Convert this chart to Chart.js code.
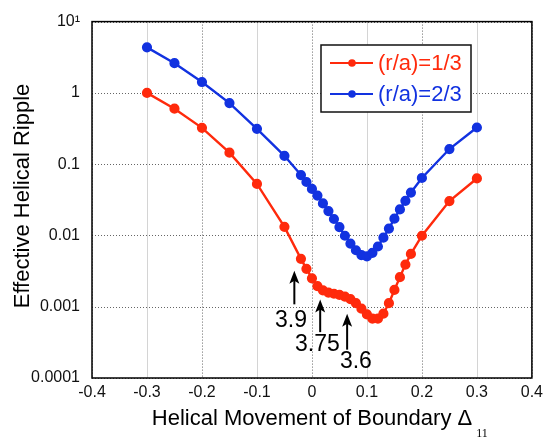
<!DOCTYPE html>
<html>
<head>
<meta charset="utf-8">
<script src="https://cdn.jsdelivr.net/npm/chart.js@4.4.1/dist/chart.umd.min.js"></script>
<style>
  html, body { margin: 0; padding: 0; background: #fff; }
  #wrap { width: 548px; height: 441px; position: relative; }
</style>
</head>
<body>
<div id="wrap"><canvas id="cjs" width="548" height="441"></canvas></div>
<script>
// helical movement of the boundary (x)
const deltaX = [-0.3, -0.25, -0.2, -0.15, -0.1, -0.05, -0.02, -0.01,
    0, 0.01, 0.02, 0.03, 0.04, 0.05, 0.06, 0.07, 0.08, 0.09,
    0.1, 0.11, 0.12, 0.13, 0.14, 0.15, 0.16, 0.17, 0.18, 0.2, 0.25, 0.3];

// effective helical ripple, (r/a)=1/3
const rippleInner = [1.0, 0.6, 0.323, 0.145, 0.0528, 0.0132, 0.0047, 0.0034,
    0.0025, 0.00194, 0.0017, 0.00158, 0.00152, 0.00147, 0.00139, 0.00128, 0.00112, 0.00094,
    0.00078, 0.00068, 0.00068, 0.0008, 0.00112, 0.00172, 0.0026, 0.0039, 0.0055, 0.0099, 0.0303, 0.063];

// effective helical ripple, (r/a)=2/3
const rippleOuter = [4.35, 2.61, 1.42, 0.72, 0.313, 0.131, 0.0703, 0.0562,
    0.045, 0.0363, 0.0281, 0.022, 0.017, 0.0131, 0.0099, 0.0077, 0.0062, 0.0053,
    0.0051, 0.0057, 0.007, 0.0093, 0.0125, 0.0172, 0.0232, 0.0306, 0.04, 0.064, 0.163, 0.327];

const seriesLabels = ['(r/a)=1/3', '(r/a)=2/3'];
const yTicks = [0.0001, 0.001, 0.01, 0.1, 1, 10];
const yTickLabels = ['0.0001', '0.001', '0.01', '0.1', '1', '10¹'];

// arrows marking iota values: x, arrow tail y, arrow tip y, label x, label y
const marks = ['3.9', '3.75', '3.6'];
const markX = [-0.032, 0.015, 0.064];
const markTail = [0.00108, 0.00044, 0.00025];
const markTip = [0.0032, 0.00126, 0.0008];
const markLabelX = [-0.038, 0.01, 0.08];
const markLabelY = [0.00063, 0.00029, 0.000172];

const RED = '#ff2a0c';
const BLUE = '#1232e0';
const FONT = '"Liberation Sans", Arial, Helvetica, sans-serif';

function pts(ys){
    return deltaX.map(function(x, i){ return {x: x, y: ys[i]}; });
}

const decor = {
    id: 'decor',
    beforeDatasetsDraw(chart){
        const ctx = chart.ctx, a = chart.chartArea;
        const xs = chart.scales.x, ys = chart.scales.y;
        ctx.save();
        ctx.lineWidth = 1;
        // vertical grid: odd tenths light solid, even tenths dotted
        xs.ticks.forEach(function(t, i){
            const px = Math.round(xs.getPixelForValue(t.value)) + 0.5;
            if (i % 2 === 1){
                ctx.setLineDash([]);
                ctx.strokeStyle = '#d4d4d4';
            } else {
                ctx.setLineDash([1, 2]);
                ctx.strokeStyle = '#666';
            }
            ctx.beginPath(); ctx.moveTo(px, a.top); ctx.lineTo(px, a.bottom); ctx.stroke();
        });
        ctx.setLineDash([1, 2]);
        ctx.strokeStyle = '#666';
        yTicks.forEach(function(v){
            const py = Math.round(ys.getPixelForValue(v)) + 0.5;
            ctx.beginPath(); ctx.moveTo(a.left, py); ctx.lineTo(a.right, py); ctx.stroke();
        });
        ctx.restore();
    },
    afterDraw(chart){
        const ctx = chart.ctx, a = chart.chartArea;
        const xs = chart.scales.x, ys = chart.scales.y;
        ctx.save();
        // frame
        ctx.strokeStyle = '#000';
        ctx.lineWidth = 1.5;
        ctx.strokeRect(a.left, a.top, a.right - a.left, a.bottom - a.top);

        // legend box
        const lx = 321, ly = 45, lw = 150, lh = 67;
        ctx.fillStyle = '#fff';
        ctx.fillRect(lx, ly, lw, lh);
        ctx.lineWidth = 1.5;
        ctx.strokeStyle = '#111';
        ctx.strokeRect(lx, ly, lw, lh);
        [RED, BLUE].forEach(function(c, i){
            const ry = ly + 18 + i * 31;
            ctx.strokeStyle = c; ctx.fillStyle = c; ctx.lineWidth = 2;
            ctx.beginPath(); ctx.moveTo(lx + 9, ry); ctx.lineTo(lx + 52, ry); ctx.stroke();
            ctx.beginPath(); ctx.arc(lx + 31, ry, 3.8, 0, Math.PI * 2); ctx.fill();
            ctx.font = '22px ' + FONT;
            ctx.textAlign = 'left'; ctx.textBaseline = 'middle';
            ctx.fillText(seriesLabels[i], lx + 57, ry + 1);
        });

        // arrows with labels
        ctx.strokeStyle = '#000'; ctx.fillStyle = '#000'; ctx.lineWidth = 2;
        marks.forEach(function(m, i){
            const px = xs.getPixelForValue(markX[i]);
            const y0 = ys.getPixelForValue(markTail[i]);
            const y1 = ys.getPixelForValue(markTip[i]);
            ctx.beginPath(); ctx.moveTo(px, y0); ctx.lineTo(px, y1 + 6); ctx.stroke();
            ctx.beginPath();
            ctx.moveTo(px, y1); ctx.lineTo(px - 5, y1 + 13); ctx.lineTo(px, y1 + 10); ctx.lineTo(px + 5, y1 + 13);
            ctx.closePath(); ctx.fill();
            ctx.font = '23px ' + FONT;
            ctx.textAlign = 'center'; ctx.textBaseline = 'middle';
            ctx.fillText(m, xs.getPixelForValue(markLabelX[i]), ys.getPixelForValue(markLabelY[i]));
        });

        // axis titles
        ctx.fillStyle = '#000';
        ctx.font = '22px ' + FONT;
        ctx.textAlign = 'center'; ctx.textBaseline = 'middle';
        ctx.fillText('Helical Movement of Boundary Δ', 312, 419);
        ctx.font = '12px "Liberation Serif", "DejaVu Serif", serif';
        ctx.fillText('11', 482, 434);
        ctx.save();
        ctx.translate(23, 196);
        ctx.rotate(-Math.PI / 2);
        ctx.font = '22px ' + FONT;
        ctx.fillText('Effective Helical Ripple', 0, 0);
        ctx.restore();
        ctx.restore();
    }
};

const config = {
    type: 'scatter',
    data: {
        datasets: [
            {label: seriesLabels[0], data: pts(rippleInner), showLine: true,
             borderColor: RED, backgroundColor: RED, borderWidth: 2.4, pointRadius: 3.9},
            {label: seriesLabels[1], data: pts(rippleOuter), showLine: true,
             borderColor: BLUE, backgroundColor: BLUE, borderWidth: 2.4, pointRadius: 3.9}
        ]
    },
    options: {
        responsive: false,
        animation: false,
        layout: {padding: {left: 0, right: 15, top: 19, bottom: 0}},
        plugins: {legend: {display: false}, tooltip: {enabled: false}},
        scales: {
            x: {
                type: 'linear', min: -0.4, max: 0.4,
                grid: {display: false, drawTicks: false},
                border: {display: false},
                ticks: {
                    stepSize: 0.1, padding: 5, color: '#111',
                    font: {family: FONT, size: 16},
                    callback: function(v){ return Math.abs(v) < 1e-9 ? '0' : v.toFixed(1); }
                },
                afterFit: function(s){ s.height = 63; }
            },
            y: {
                type: 'logarithmic', min: 0.0001, max: 10,
                grid: {display: false, drawTicks: false},
                border: {display: false},
                afterBuildTicks: function(s){ s.ticks = yTicks.map(function(v){ return {value: v}; }); },
                ticks: {
                    padding: 12, color: '#111',
                    font: {family: FONT, size: 16},
                    callback: function(v){ const k = yTicks.indexOf(v); return k >= 0 ? yTickLabels[k] : ''; }
                },
                afterFit: function(s){ s.width = 92; }
            }
        }
    },
    plugins: [decor]
};

const myChart = new Chart(document.getElementById('cjs'), config);
</script>
</body>
</html>
